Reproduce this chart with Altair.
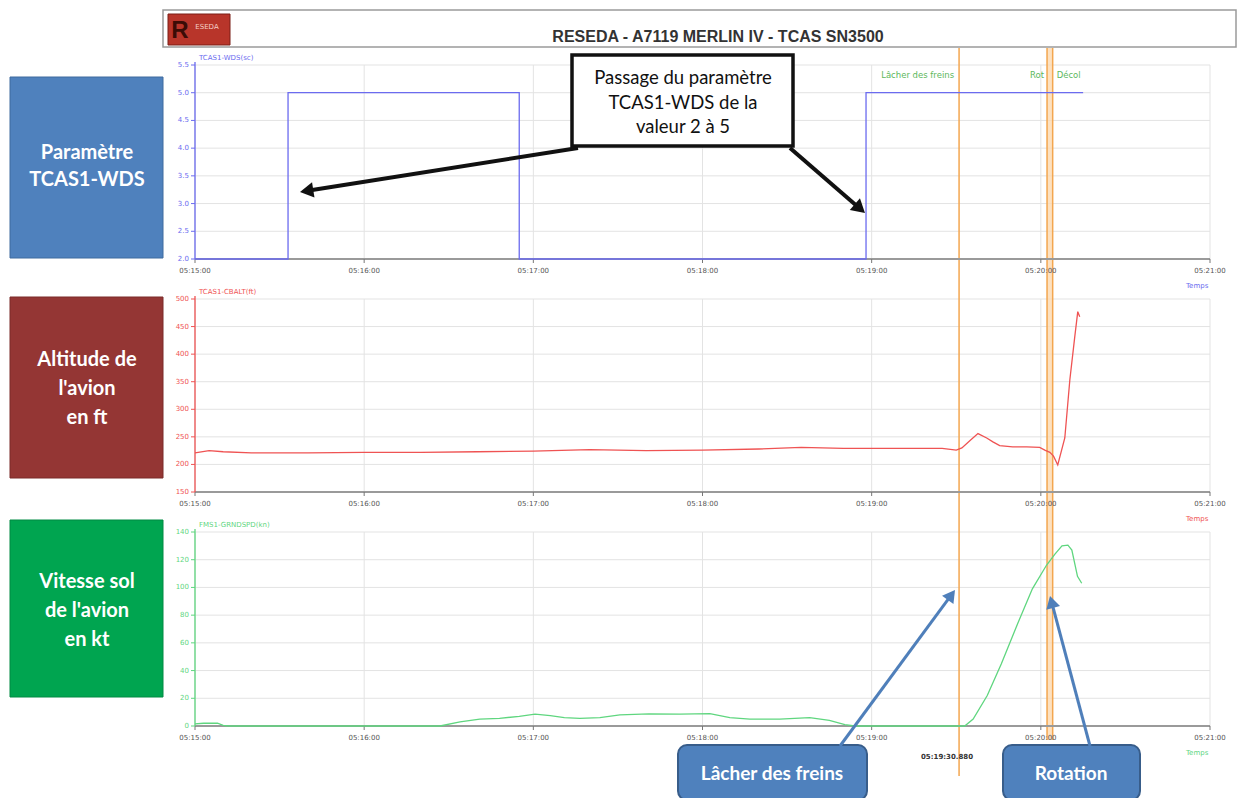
import math
import altair as alt
import pandas as pd

# ---------------- data ----------------
time_ticks = [0, 60, 120, 180, 240, 300, 360]          # seconds after 05:15:00
time_labels = ["05:15:00", "05:16:00", "05:17:00", "05:18:00",
               "05:19:00", "05:20:00", "05:21:00"]

wds_ticks = [2.0, 2.5, 3.0, 3.5, 4.0, 4.5, 5.0, 5.5]
wds_labels = ["2.0", "2.5", "3.0", "3.5", "4.0", "4.5", "5.0", "5.5"]
alt_ticks = [150, 200, 250, 300, 350, 400, 450, 500]
alt_labels = ["150", "200", "250", "300", "350", "400", "450", "500"]
gs_ticks = [0, 20, 40, 60, 80, 100, 120, 140]
gs_labels = ["0", "20", "40", "60", "80", "100", "120", "140"]

# TCAS1-WDS (step signal)
wds_time = [0, 33, 115, 238, 315]
wds_value = [2, 5, 2, 5, 5]

# TCAS1-CBALT (ft)
alt_time = [0, 5, 10, 20, 40, 60, 80, 100, 120, 140, 160, 180, 200, 215, 230,
            250, 265, 270, 272, 275, 277.7, 280.8, 283, 285.4, 290, 295, 299.6,
            301.4, 303.2, 304.5, 306, 308.5, 310.3, 312, 313.1, 313.8]
alt_value = [221, 225, 223, 221, 221, 222, 222, 223, 224, 227, 225, 226, 228, 231, 229,
             229, 229, 226, 230, 244, 256, 248, 241, 234, 232, 232, 231,
             226, 222, 215, 199, 248, 354, 430, 477, 468]

# FMS1-GRNDSPD (kn)
gs_time = [0, 3, 8, 10, 12, 86.9, 94, 101, 108, 115, 120.6, 126, 131, 136.5, 143.6,
           150.7, 161, 172, 182.6, 189.7, 196.8, 207.4, 218, 225, 230.5, 234, 273,
           276, 281, 286, 291.8, 297, 302, 305, 307.5, 309.6, 311, 313, 314.5]
gs_value = [1.5, 2, 2, 0.5, 0, 0, 3, 5, 5.5, 7, 8.5, 7.5, 6, 5.5, 6,
            8, 8.7, 8.5, 9, 6, 5, 5, 6, 4, 1, 0, 0,
            5, 22, 45, 74, 99, 116, 124, 130, 130.5, 127, 108, 103]

# events
brake_time = [271.0]
brake_label = ["05:19:30.880"]
band_start = [302.2]
band_end = [304.2]
event_names = ["Lâcher des freins", "Rot", "Décol"]

# ---------------- layout helpers ----------------
W, H = 1231, 790
OFF = 8


def px(v):
    return v - OFF


X_SCALE = alt.Scale(domain=[0, 360], range=[px(195), px(1210)], nice=False, zero=False)
X_LEFT, X_RIGHT = 195, 1210
ONE = pd.DataFrame({"a": [0]})
AXIS_GREY = "#9a9a9a"
GRID = "#e3e3e3"
SMALL_FONT = "DejaVu Sans"
BOX_FONT = "Lato"
BLUE = "#6b6bef"
RED = "#ef5353"
GREEN = "#5fd67f"


def panel(ticks, labels, yscale, y_top, y_bot, color, s_t, s_v, name, interp):
    gdf = pd.DataFrame({"v": ticks, "lab": labels})
    tdf = pd.DataFrame({"t": time_ticks, "lab": time_labels})
    sdf = pd.DataFrame({"t": s_t, "v": s_v})
    X = alt.X("t:Q", scale=X_SCALE, axis=None)
    Y = alt.Y("v:Q", scale=yscale, axis=None)
    bg = [
        alt.Chart(gdf).mark_rule(color=GRID, strokeWidth=1).encode(
            y=Y, x=alt.value(px(X_LEFT)), x2=alt.value(px(X_RIGHT))),
        alt.Chart(tdf).mark_rule(color=GRID, strokeWidth=1).encode(
            x=X, y=alt.value(px(y_top)), y2=alt.value(px(y_bot))),
    ]
    fg = [
        # x axis line, ticks, labels
        alt.Chart(ONE).mark_rule(color=AXIS_GREY, strokeWidth=2).encode(
            y=alt.value(px(y_bot)), x=alt.value(px(X_LEFT)), x2=alt.value(px(X_RIGHT))),
        alt.Chart(tdf).mark_rule(color="#777777", strokeWidth=1).encode(
            x=X, y=alt.value(px(y_bot)), y2=alt.value(px(y_bot + 4))),
        alt.Chart(tdf).mark_text(fontSize=7, font=SMALL_FONT, color="#555555",
                                 baseline="middle").encode(
            x=X, y=alt.value(px(y_bot + 12)), text="lab:N"),
        # y axis line, ticks, labels
        alt.Chart(ONE).mark_rule(color=color, strokeWidth=1.3).encode(
            x=alt.value(px(X_LEFT)), y=alt.value(px(y_top - 3)), y2=alt.value(px(y_bot))),
        alt.Chart(gdf).mark_rule(color=color, strokeWidth=1).encode(
            y=Y, x=alt.value(px(X_LEFT - 4)), x2=alt.value(px(X_LEFT))),
        alt.Chart(gdf).mark_text(fontSize=7, font=SMALL_FONT, color=color, align="right",
                                 baseline="middle").encode(
            y=Y, x=alt.value(px(X_LEFT - 6)), text="lab:N"),
        # series name and "Temps"
        alt.Chart(ONE).mark_text(fontSize=7, font=SMALL_FONT, color=color, align="left",
                                 baseline="middle").encode(
            x=alt.value(px(X_LEFT + 4)), y=alt.value(px(y_top - 7)), text=alt.value(name)),
        alt.Chart(ONE).mark_text(fontSize=7, font=SMALL_FONT, color=color, align="left",
                                 baseline="middle").encode(
            x=alt.value(px(1186)), y=alt.value(px(y_bot + 27)), text=alt.value("Temps")),
        # the series
        alt.Chart(sdf).mark_line(color=color, strokeWidth=1.3, interpolate=interp).encode(x=X, y=Y),
    ]
    return alt.layer(*bg), alt.layer(*fg)


Y_TOP = alt.Scale(domain=[2.0, 5.5], range=[px(259), px(65)], nice=False, zero=False)
Y_MID = alt.Scale(domain=[150, 500], range=[px(492), px(299)], nice=False, zero=False)
Y_BOT = alt.Scale(domain=[0, 140], range=[px(726), px(532)], nice=False, zero=False)

top_bg, top_fg = panel(wds_ticks, wds_labels, Y_TOP, 65, 259, BLUE,
                       wds_time, wds_value, "TCAS1-WDS(sc)", "step-after")
mid_bg, mid_fg = panel(alt_ticks, alt_labels, Y_MID, 299, 492, RED,
                       alt_time, alt_value, "TCAS1-CBALT(ft)", "linear")
bot_bg, bot_fg = panel(gs_ticks, gs_labels, Y_BOT, 532, 726, GREEN,
                       gs_time, gs_value, "FMS1-GRNDSPD(kn)", "linear")

# ---------------- event lines ----------------
XE = alt.X("t:Q", scale=X_SCALE, axis=None)
brake_df = pd.DataFrame({"t": brake_time, "lab": brake_label})
band_df = pd.DataFrame({"t": band_start, "t2": band_end})
ORANGE = "#f3a64f"
EV_GREEN = "#5cb85c"
events = alt.layer(
    alt.Chart(band_df).mark_rect(color="#fcd9b0", opacity=0.8).encode(
        x=XE, x2="t2:Q", y=alt.value(px(48)), y2=alt.value(px(740))),
    alt.Chart(band_df).mark_rule(color=ORANGE, strokeWidth=1.5).encode(
        x=XE, y=alt.value(px(48)), y2=alt.value(px(740))),
    alt.Chart(band_df).mark_rule(color=ORANGE, strokeWidth=1.5).encode(
        x=alt.X("t2:Q", scale=X_SCALE, axis=None), y=alt.value(px(48)), y2=alt.value(px(740))),
    alt.Chart(brake_df).mark_rule(color=ORANGE, strokeWidth=1.5).encode(
        x=XE, y=alt.value(px(48)), y2=alt.value(px(776))),
    alt.Chart(brake_df).mark_text(fontSize=7, font=SMALL_FONT, fontWeight="bold",
                                  color="#333333", align="right", baseline="middle").encode(
        x=XE, y=alt.value(px(757)), text="lab:N", xOffset=alt.value(14)),
    alt.Chart(brake_df).mark_text(fontSize=8.5, font=SMALL_FONT, color=EV_GREEN,
                                  align="right", baseline="middle").encode(
        x=XE, y=alt.value(px(75)), text=alt.value(event_names[0]), xOffset=alt.value(-5)),
    alt.Chart(band_df).mark_text(fontSize=8.5, font=SMALL_FONT, color=EV_GREEN,
                                 align="right", baseline="middle").encode(
        x=XE, y=alt.value(px(75)), text=alt.value(event_names[1]), xOffset=alt.value(-3)),
    alt.Chart(band_df).mark_text(fontSize=8.5, font=SMALL_FONT, color=EV_GREEN,
                                 align="left", baseline="middle").encode(
        x=alt.X("t2:Q", scale=X_SCALE, axis=None), y=alt.value(px(75)),
        text=alt.value(event_names[2]), xOffset=alt.value(4)),
)

# ---------------- header, boxes and callouts ----------------


def rect(x0, y0, x1, y1, **kw):
    return alt.Chart(ONE).mark_rect(**kw).encode(
        x=alt.value(px(x0)), x2=alt.value(px(x1)), y=alt.value(px(y0)), y2=alt.value(px(y1)))


def text(x, y, s, **kw):
    return alt.Chart(ONE).mark_text(**kw).encode(
        x=alt.value(px(x)), y=alt.value(px(y)), text=alt.value(s))


def arrow(x0, y0, x1, y1, color, width, head):
    dx, dy = x1 - x0, y1 - y0
    L = math.hypot(dx, dy)
    ux, uy = dx / L, dy / L
    ang = math.degrees(math.atan2(dx, -dy)) % 360
    r = math.sqrt(head) / 2
    h = 0.866 * r
    cx, cy = x1 - ux * h, y1 - uy * h
    ex, ey = x1 - ux * 1.6 * h, y1 - uy * 1.6 * h
    shaft = alt.Chart(ONE).mark_rule(color=color, strokeWidth=width).encode(
        x=alt.value(px(x0)), y=alt.value(px(y0)), x2=alt.value(px(ex)), y2=alt.value(px(ey)))
    tip = alt.Chart(ONE).mark_point(shape="triangle-up", filled=True, opacity=1, size=head,
                                    angle=ang, color=color).encode(
        x=alt.value(px(cx)), y=alt.value(px(cy)))
    return [shaft, tip]


header = [
    rect(163, 10, 1236, 47, fill="white", fillOpacity=0, stroke="#9a9a9a", strokeWidth=1.5),
    rect(168, 14, 230, 45, fill="#b8352a", stroke="#7a1f16", strokeWidth=1),
    text(180, 31, "R", fontSize=24, fontWeight="bold", font="Liberation Sans",
         color="#3b0c06", baseline="middle"),
    text(207, 27, "ESEDA", fontSize=7, font=SMALL_FONT, color="#f5d0c8", baseline="middle"),
    text(718, 37, "RESEDA - A7119 MERLIN IV - TCAS SN3500", fontSize=16, fontWeight="bold",
         font="Liberation Sans", color="#333333", baseline="middle"),
]

side = [
    rect(10, 77, 163, 258, fill="#4f81bd", stroke="#3f6a9e", strokeWidth=1),
    text(87, 153, "Paramètre\nTCAS1-WDS", fontSize=20, fontWeight="bold", font=BOX_FONT,
         color="white", baseline="middle", lineBreak="\n", lineHeight=27),
    rect(10, 297, 163, 478, fill="#943634", stroke="#7a2a28", strokeWidth=1),
    text(87, 360, "Altitude de\nl'avion\nen ft", fontSize=20, fontWeight="bold", font=BOX_FONT,
         color="white", baseline="middle", lineBreak="\n", lineHeight=29),
    rect(10, 520, 163, 697, fill="#00a550", stroke="#008a43", strokeWidth=1),
    text(87, 582, "Vitesse sol\nde l'avion\nen kt", fontSize=20, fontWeight="bold", font=BOX_FONT,
         color="white", baseline="middle", lineBreak="\n", lineHeight=29),
]

callouts = [
    rect(572, 55, 793, 146, fill="white", stroke="#111111", strokeWidth=3.5),
    text(683, 78, "Passage du paramètre\nTCAS1-WDS de la\nvaleur 2 à 5", fontSize=18.5,
         font=BOX_FONT, color="#111111", baseline="middle", lineBreak="\n", lineHeight=24.5),
    *arrow(578, 148, 300, 192, "#111111", 4, 240),
    *arrow(790, 148, 865, 213, "#111111", 4, 240),
    rect(678, 745, 867, 800, fill="#4f81bd", stroke="#385d8a", strokeWidth=2, cornerRadius=9),
    text(772, 774, "Lâcher des freins", fontSize=19, fontWeight="bold", font=BOX_FONT,
         color="white", baseline="middle"),
    rect(1003, 745, 1140, 800, fill="#4f81bd", stroke="#385d8a", strokeWidth=2, cornerRadius=9),
    text(1071, 774, "Rotation", fontSize=19, fontWeight="bold", font=BOX_FONT,
         color="white", baseline="middle"),
    *arrow(840, 746, 955, 590, "#4f7fba", 3, 200),
    *arrow(1090, 746, 1050, 596, "#4f7fba", 3, 200),
]

chart = alt.layer(
    top_bg, mid_bg, bot_bg, events, top_fg, mid_fg, bot_fg,
    *header, *side, *callouts,
).resolve_scale(y="independent").properties(
    width=W, height=H, autosize=alt.AutoSizeParams(type="none"), padding=0,
).configure_view(stroke=None)

chart.save("out.html", embed_options={"renderer": "svg", "actions": False})
